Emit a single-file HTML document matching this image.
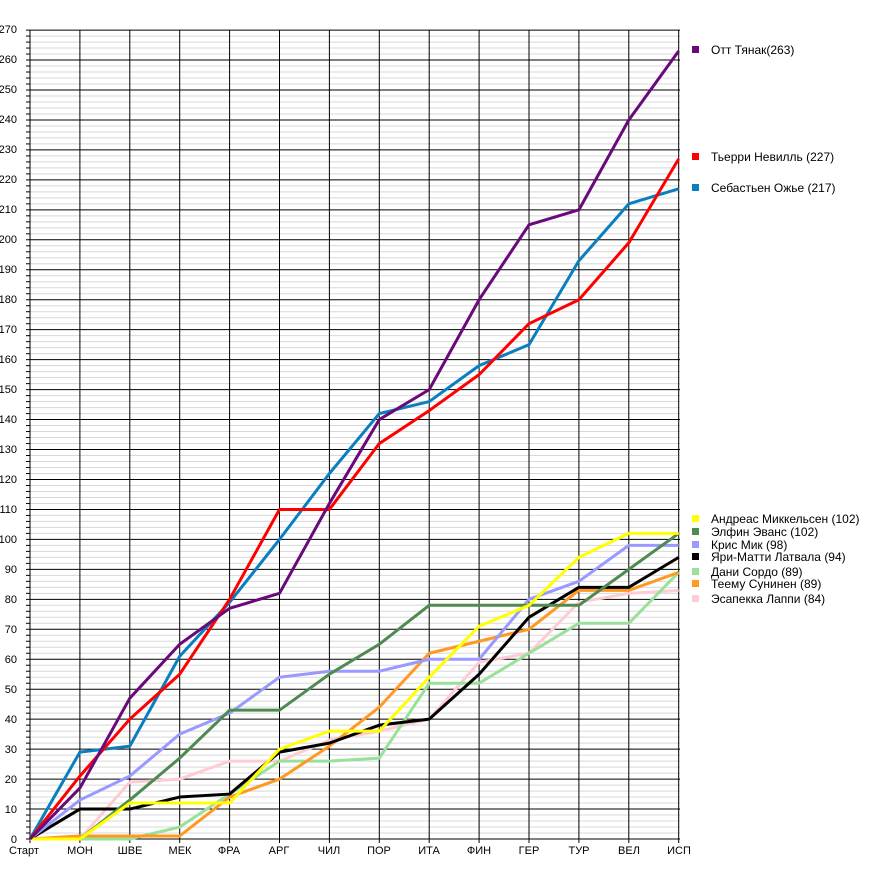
<!DOCTYPE html>
<html><head><meta charset="utf-8"><style>
body{margin:0;background:#fff;width:880px;height:868px;overflow:hidden}
svg{font-family:"Liberation Sans",sans-serif}
</style></head><body>
<svg id="s" width="880" height="868" xmlns="http://www.w3.org/2000/svg">
<g id="grid"></g>
<g id="lines" fill="none" stroke-width="3" stroke-linejoin="round"></g>
<g font-size="11" text-anchor="end" fill="#000">
<text x="17" y="843">0</text><text x="17" y="813">10</text><text x="17" y="783">20</text><text x="17" y="753">30</text><text x="17" y="723">40</text><text x="17" y="693">50</text><text x="17" y="663">60</text><text x="17" y="633">70</text><text x="17" y="603">80</text><text x="17" y="573">90</text><text x="17" y="543">100</text><text x="17" y="513">110</text><text x="17" y="483">120</text><text x="17" y="453">130</text><text x="17" y="423">140</text><text x="17" y="393">150</text><text x="17" y="363">160</text><text x="17" y="333">170</text><text x="17" y="303">180</text><text x="17" y="273">190</text><text x="17" y="243">200</text><text x="17" y="213">210</text><text x="17" y="183">220</text><text x="17" y="153">230</text><text x="17" y="123">240</text><text x="17" y="93">250</text><text x="17" y="63">260</text><text x="17" y="33">270</text>
</g>
<g font-size="11" text-anchor="middle" fill="#000">
<text x="24" y="854">Старт</text><text x="80" y="854">МОН</text><text x="130" y="854">ШВЕ</text><text x="180" y="854">МЕК</text><text x="229" y="854">ФРА</text><text x="279" y="854">АРГ</text><text x="329" y="854">ЧИЛ</text><text x="379" y="854">ПОР</text><text x="429" y="854">ИТА</text><text x="479" y="854">ФИН</text><text x="529" y="854">ГЕР</text><text x="579" y="854">ТУР</text><text x="629" y="854">ВЕЛ</text><text x="679" y="854">ИСП</text>
</g>
<g font-size="12" fill="#000">
<rect x="692" y="46" width="7" height="7" fill="#6a0a7a"/><text x="711" y="54">Отт Тянак(263)</text>
<rect x="692" y="153" width="7" height="7" fill="#ff0000"/><text x="711" y="161">Тьерри Невилль (227)</text>
<rect x="692" y="184" width="7" height="7" fill="#0a7fc0"/><text x="711" y="192">Себастьен Ожье (217)</text>
<rect x="692" y="515" width="7" height="7" fill="#ffff00"/><text x="711" y="523">Андреас Миккельсен (102)</text>
<rect x="692" y="528" width="7" height="7" fill="#4f8a4f"/><text x="711" y="536">Элфин Эванс (102)</text>
<rect x="692" y="541" width="7" height="7" fill="#9999ff"/><text x="711" y="549">Крис Мик (98)</text>
<rect x="692" y="553" width="7" height="7" fill="#000"/><text x="711" y="561">Яри-Матти Латвала (94)</text>
<rect x="692" y="568" width="7" height="7" fill="#99e099"/><text x="711" y="576">Дани Сордо (89)</text>
<rect x="692" y="580" width="7" height="7" fill="#ff9922"/><text x="711" y="588">Теему Сунинен (89)</text>
<rect x="692" y="595" width="7" height="7" fill="#ffccd5"/><text x="711" y="603">Эсапекка Лаппи (84)</text>
</g>
</svg>
<script>
function y(v){return 839-v*2.996}
function X(i){return 30+i*49.9}
var g=document.getElementById("grid"),h="";
for(var v=2;v<270;v+=2){if(v%10){h+='<line x1="30" x2="680" y1="'+y(v)+'" y2="'+y(v)+'" stroke="#d8d8d8" stroke-width="1"/>';h+='<line x1="26" x2="30" y1="'+y(v)+'" y2="'+y(v)+'" stroke="#000" stroke-width="1"/>';}}
for(var v=0;v<=270;v+=10){h+='<line x1="26" x2="680" y1="'+y(v)+'" y2="'+y(v)+'" stroke="#000" stroke-width="1"/>';}
for(var i=0;i<=13;i++){h+='<line x1="'+X(i)+'" x2="'+X(i)+'" y1="'+y(270)+'" y2="843" stroke="#000" stroke-width="1"/>';}
g.innerHTML=h;
var S=[
["#ffccd5",[0,0,19,20,26,26,33,36,40,59,62,79,82,83]],
["#99e099",[0,0,0,4,15,26,26,27,52,52,62,72,72,89]],
["#ff9922",[0,1,1,1,14,20,31,44,62,66,70,83,83,89]],
["#000000",[0,10,10,14,15,29,32,38,40,55,74,84,84,94]],
["#9999ff",[0,13,21,35,42,54,56,56,60,60,80,86,98,98]],
["#4f8a4f",[0,0,13,27,43,43,55,65,78,78,78,78,90,102]],
["#ffff00",[0,0,12,12,12,30,36,36,54,71,78,94,102,102]],
["#0a7fc0",[0,29,31,61,79,100,122,142,146,158,165,193,212,217]],
["#ff0000",[0,21,40,55,80,110,110,132,143,155,172,180,199,227]],
["#6a0a7a",[0,17,47,65,77,82,112,140,150,180,205,210,240,263]]];
var L="";
S.forEach(function(s){L+='<polyline stroke="'+s[0]+'" points="'+s[1].map(function(v,i){return X(i)+","+y(v)}).join(" ")+'"/>';});
document.getElementById("lines").innerHTML=L;
</script>
</body></html>
